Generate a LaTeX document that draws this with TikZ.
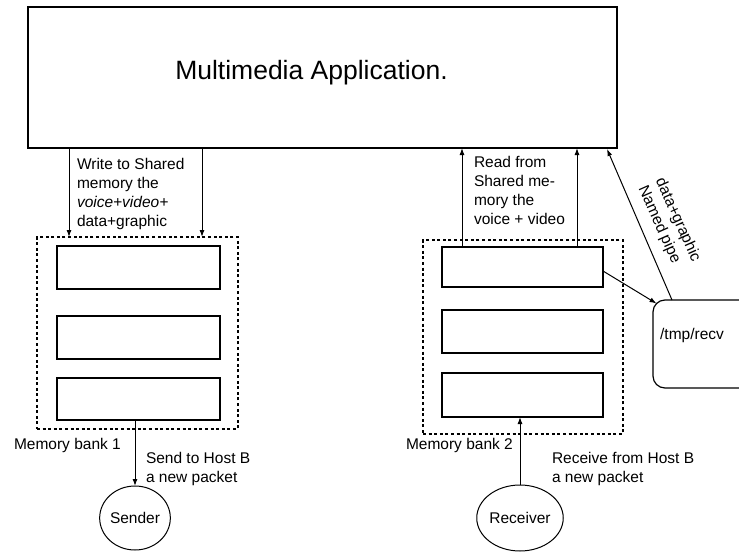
\documentclass[tikz,border=0pt]{standalone}
\usepackage{fontspec}
\setmainfont{Liberation Sans}
\usetikzlibrary{arrows.meta,shapes.geometric}
\begin{document}
\begin{tikzpicture}[x=1pt,y=-1pt,
  every node/.style={inner sep=0pt, outer sep=0pt},
  lbl/.style={font=\fontsize{15.5}{19}\selectfont, align=left},
  cell/.style={draw, line width=1.2pt, minimum width=163pt},
  bank/.style={draw, line width=1.3pt, dash pattern=on 3pt off 2.6pt},
  hostc/.style={draw, line width=1pt, ellipse, minimum width=70pt, minimum height=64pt},
  arr/.style={line width=1pt, -{Latex[length=7pt,width=5pt]}}]
\useasboundingbox (0,0) rectangle (739,554);

% application box and its title
\node[draw, line width=1.4pt, minimum width=589pt, minimum height=141pt] (app) at (322.5,77.5) {};
\node[font=\fontsize{26.5}{30}\selectfont] (title) at (311.5,73) {Multimedia Application.};

% memory bank 1 with its three cells
\node[bank, minimum width=201pt, minimum height=192pt] (bank1) at (137.5,333) {};
\node[cell, minimum height=43pt] (c11) at (138.5,267.5) {};
\node[cell, minimum height=43pt] (c12) at (138.5,337.5) {};
\node[cell, minimum height=42pt] (c13) at (138.5,399) {};

% memory bank 2 with its three cells
\node[bank, minimum width=200pt, minimum height=194pt] (bank2) at (523,337) {};
\node[cell, minimum width=161pt, minimum height=40pt] (c21) at (522.5,267) {};
\node[cell, minimum width=161pt, minimum height=43pt] (c22) at (522.5,331.5) {};
\node[cell, minimum width=161pt, minimum height=44pt] (c23) at (522.5,395) {};

% named pipe box
\node[draw, line width=1.2pt, rounded corners=12pt, minimum width=100pt, minimum height=88pt] (recv) at (703,344) {};
\node[font=\fontsize{15.5}{19}\selectfont] (recvlbl) at (692,335) {/tmp/recv};

% sender and receiver processes
\node[hostc, minimum width=70pt] (sender) at (135,518) {\fontsize{15.5}{19}\selectfont Sender};
\node[hostc, minimum width=74pt, minimum height=66pt] (receiver) at (520,518) {\fontsize{15.5}{19}\selectfont Receiver};

% write paths into bank 1
\coordinate (w1) at (69,148);
\coordinate (w2) at (202,148);
\draw[arr] (w1) -- (w1 |- bank1.north);
\draw[arr] (w2) -- (w2 |- bank1.north);
\node[lbl, anchor=north west] (wlbl) at (77,158) {Write to Shared\\memory the\\\textit{voice+video+}\\data+graphic};

% read paths out of bank 2
\coordinate (r1) at (462,267);
\coordinate (r2) at (577,267);
\draw[arr] (r1 |- c21.north) -- (r1 |- app.south);
\draw[arr] (r2 |- c21.north) -- (r2 |- app.south);
\node[lbl, anchor=north west] (rlbl) at (474,156) {Read from\\Shared me-\\mory the\\voice + video};

% cell to named pipe, pipe to application
\coordinate (pipeA) at ([xshift=19pt]recv.north west);
\coordinate (pipeB) at (607,149);
\coordinate (cellOut) at ([yshift=-4pt]c21.east);
\coordinate (pipeCorner) at ([shift={(3.5pt,-3.5pt)}]recv.north west);
\draw[arr] (cellOut) -- (pipeCorner);
\draw[arr] (pipeA) -- (pipeB);
\node[lbl, rotate=-66] (pipelbl) at (669,224) {data+graphic\\Named pipe};

% bank labels
\node[lbl, anchor=west] (m1) at (14,445) {Memory bank 1};
\node[lbl, anchor=west] (m2) at (406,445) {Memory bank 2};

% network paths
\draw[arr] (sender.north |- c13.south) -- (sender.north);
\node[lbl, anchor=north west] (slbl) at (146,452) {Send to Host B\\a new packet};
\draw[arr] (receiver.north) -- (receiver.north |- c23.south);
\node[lbl, anchor=north west] (rvlbl) at (552,452) {Receive from Host B\\a new packet};
\end{tikzpicture}
\end{document}
